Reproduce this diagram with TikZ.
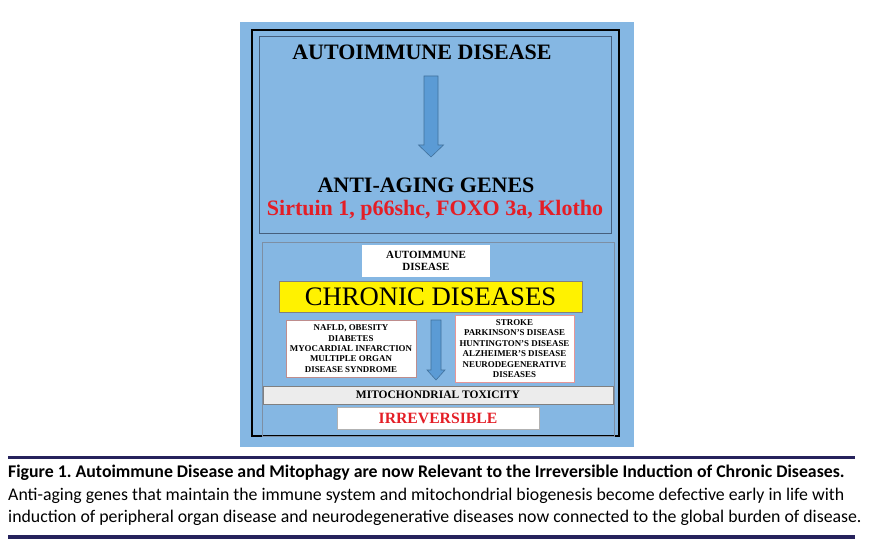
\documentclass[tikz,border=0pt]{standalone}
\usepackage{fontspec}
\setmainfont{Liberation Serif}
\newfontfamily\capfont{Carlito}
\usetikzlibrary{shapes,arrows,calc}
\definecolor{bgblue}{RGB}{133,183,227}
\definecolor{arrowblue}{RGB}{91,155,213}
\definecolor{arrowedge}{RGB}{65,113,156}
\definecolor{boxedge}{RGB}{70,95,125}
\definecolor{boxpink}{RGB}{232,150,150}
\definecolor{textred}{RGB}{228,30,38}
\definecolor{barwhite}{RGB}{236,236,236}
\definecolor{rulenavy}{RGB}{38,34,92}
\tikzstyle{title} = [font=\fontsize{22}{24}\selectfont\bfseries, inner sep=0pt]
\tikzstyle{redtext} = [title, text=textred]
\tikzstyle{block} = [rectangle, draw=boxpink, fill=white, text centered, align=center,
    font=\fontsize{8.9}{10.4}\selectfont\bfseries, inner sep=0pt]
\tikzstyle{bluearrow} = [draw=arrowedge, fill=arrowblue, line width=0.6pt]
\tikzstyle{rule} = [draw=rulenavy, line width=3.5pt]
\tikzstyle{caption} = [font=\capfont\fontsize{17.8}{22.5}\selectfont\frenchspacing, align=left, inner sep=0pt]

\begin{document}
\begin{tikzpicture}[x=1pt, y=-1pt, node distance = 36pt]
    \useasboundingbox (0,0) rectangle (875,545);
    % Background and frames
    \fill [bgblue] (240,22) rectangle (634,447);
    \draw [black, line width=2.2pt] (252,30) rectangle (619,436);
    \draw [boxedge, line width=0.7pt] (259,36) rectangle (611,233);
    \draw [boxedge!70, line width=0.7pt] (262,242) rectangle (614,436);

    % Place nodes
    \node [title] (autoimmune) at (422,52) {AUTOIMMUNE DISEASE};
    \node [title, below of=autoimmune, node distance=133pt, xshift=4pt] (antiaging) {ANTI-AGING GENES};
    \node [redtext] (genes) at (435,210) {Sirtuin 1, p66shc, FOXO 3a, Klotho};

    \node [block, draw=none, minimum width=128pt, minimum height=32pt,
        font=\fontsize{11}{12}\selectfont\bfseries] (autobox) at (426,261) {AUTOIMMUNE\\DISEASE};
    \node [rectangle, fill=yellow, draw=gray, minimum width=303pt, minimum height=31pt,
        font=\fontsize{26.7}{28}\selectfont, below of=autobox, xshift=4.5pt] (chronic) {CHRONIC DISEASES};
    \node [block, draw=boxpink!60!gray, minimum width=130pt, minimum height=57pt] (organ) at (351,348.5)
        {NAFLD, OBESITY\\DIABETES\\MYOCARDIAL INFARCTION\\MULTIPLE ORGAN\\DISEASE SYNDROME};
    \node [block, minimum width=119pt, minimum height=67pt] (neuro) at (514.5,348.5)
        {STROKE\\PARKINSON'S DISEASE\\HUNTINGTON'S DISEASE\\ALZHEIMER'S DISEASE\\NEURODEGENERATIVE\\DISEASES};
    \node [block, fill=barwhite, draw=gray, minimum width=350pt, minimum height=18pt,
        font=\fontsize{11.5}{13}\selectfont\bfseries] (mito) at (438,395) {MITOCHONDRIAL TOXICITY};
    \node [block, draw=gray!60, minimum width=202pt, minimum height=22pt, text=textred,
        font=\fontsize{15.7}{17}\selectfont\bfseries] (irrev) at (438,418) {IRREVERSIBLE};

    \node [caption, anchor=north west] (caption) at (8,465)
        {\textbf{Figure 1. Autoimmune Disease and Mitophagy are now Relevant to the Irreversible Induction of Chronic Diseases.}\\
        Anti-aging genes that maintain the immune system and mitochondrial biogenesis become defective early in life with\\
        induction of peripheral organ disease and neurodegenerative diseases now connected to the global burden of disease.};

    % Draw edges
    \coordinate (upstart) at (431,76);
    \coordinate (upend) at (431,157);
    \path [bluearrow] ($(upstart)+(-7,0)$) -- ($(upend)+(-7,-12)$) -- ($(upend)+(-12.5,-12)$) -- (upend)
        -- ($(upend)+(12.5,-12)$) -- ($(upend)+(7,-12)$) -- ($(upstart)+(7,0)$) -- cycle;
    \coordinate (lowstart) at (436,320);
    \coordinate (lowend) at (436,380);
    \path [bluearrow] ($(lowstart)+(-5,0)$) -- ($(lowend)+(-5,-10)$) -- ($(lowend)+(-9,-10)$) -- (lowend)
        -- ($(lowend)+(9,-10)$) -- ($(lowend)+(5,-10)$) -- ($(lowstart)+(5,0)$) -- cycle;

    % Caption rules
    \draw [rule] (8,457.5) -- (855,457.5);
    \draw [rule] (8,537) -- (855,537);
\end{tikzpicture}
\end{document}
